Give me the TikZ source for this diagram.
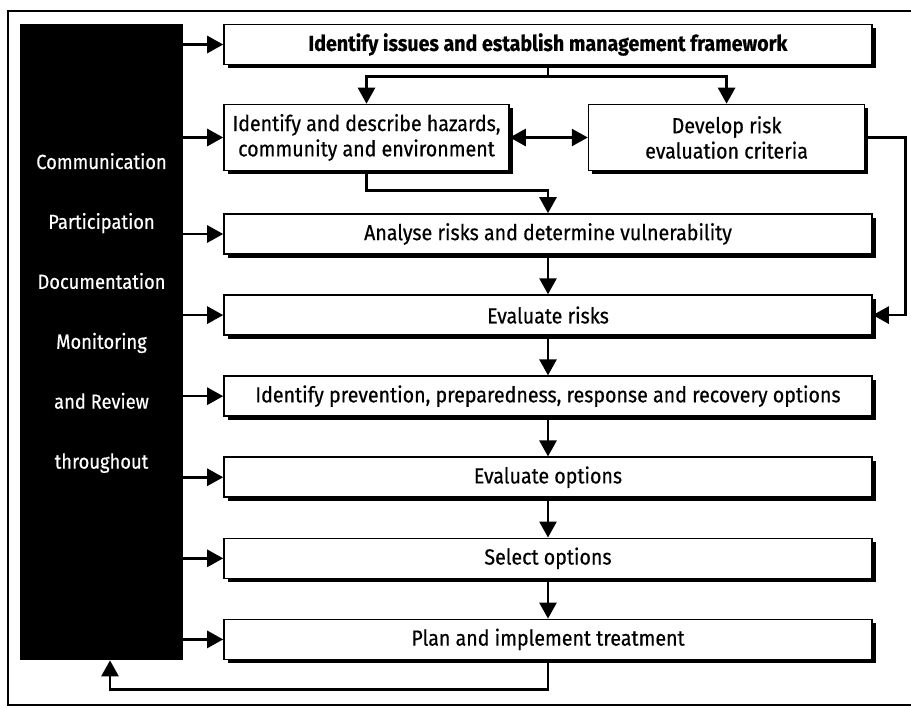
\documentclass[tikz,border=0pt]{standalone}
\usepackage{fontspec}
\setmainfont{Fira Sans}[FakeStretch=0.9, FakeBold=0.5]
\usetikzlibrary{arrows.meta,positioning,shadows}

\begin{document}
\begin{tikzpicture}[
  font=\fontsize{12.4}{14.4}\selectfont,
  box/.style={draw, fill=white, line width=0.9pt, align=center, inner sep=2pt,
              minimum width=12.96cm, minimum height=0.8cm,
              drop shadow={shadow xshift=0.07cm, shadow yshift=-0.07cm, fill=black, opacity=1}},
  side/.style={fill=black, minimum width=3.26cm, minimum height=12.72cm, inner sep=0pt},
  arr/.style={-{Triangle[length=0.32cm, width=0.34cm]}, line width=1.5pt},
  dbl/.style={{Triangle[length=0.32cm, width=0.34cm]}-{Triangle[length=0.32cm, width=0.34cm]}, line width=1.5pt}]
\useasboundingbox (0,0) rectangle (18.22,-14.14);
\draw[line width=0.6pt] (18.22,-0.22) -- (0.16,-0.22) -- (0.16,-14.10) -- (18.22,-14.10);
% side bar with the ongoing activities
\node[side] (side) at (2.03,-6.84) {};
\node[text=white, align=center, font=\fontsize{11.6}{34.1}\selectfont] (lbl) at (2.03,-6.26)
  {Communication\\Participation\\Documentation\\Monitoring\\and Review\\throughout};
% process steps
\node[box] (top) at (10.96,-0.89) {\textbf{Identify issues and establish management framework}};
\node[box, minimum width=5.70cm, minimum height=1.32cm] (haz) at (7.33,-2.75)
  {Identify and describe hazards,\\community and environment};
\node[box, minimum width=5.52cm, minimum height=1.32cm, right=1.56cm of haz] (dev)
  {Develop risk\\evaluation criteria};
\node[box] (ana) at (10.96,-4.68) {Analyse risks and determine vulnerability};
\node[box, below=0.79cm of ana] (eva) {Evaluate risks};
\node[box, below=0.79cm of eva] (pre) {Identify prevention, preparedness, response and recovery options};
\node[box, below=0.79cm of pre] (evo) {Evaluate options};
\node[box, below=0.79cm of evo] (sel) {Select options};
\node[box, below=0.79cm of sel] (plan) {Plan and implement treatment};
% flow between steps
\draw[line width=1.5pt] (top.south) -- ++(0,-0.22) coordinate (split);
\draw[arr] (split) -| (haz.north); \draw[arr] (split) -| (dev.north);
\draw[dbl] (haz.east) -- (dev.west);
\draw[arr] (haz.south) -- ++(0,-0.38) -| (ana.north);
\draw[arr] (dev.east) -- ++(0.8,0) |- (eva.east);
\draw[arr] (ana) -- (eva); \draw[arr] (eva) -- (pre); \draw[arr] (pre) -- (evo);
\draw[arr] (evo) -- (sel); \draw[arr] (sel) -- (plan);
\draw[arr] (plan.south) -- ++(0,-0.58) -| ([xshift=0.17cm]side.south);
% links from the side bar
\draw[arr] (side.east |- top.west) -- (top.west);
\draw[arr] (side.east |- haz.west) -- (haz.west);
\draw[arr] (side.east |- ana.west) -- (ana.west);
\draw[arr] (side.east |- eva.west) -- (eva.west);
\draw[arr] (side.east |- pre.west) -- (pre.west);
\draw[arr] (side.east |- evo.west) -- (evo.west);
\draw[arr] (side.east |- sel.west) -- (sel.west);
\draw[arr] (side.east |- plan.west) -- (plan.west);
\end{tikzpicture}
\end{document}
